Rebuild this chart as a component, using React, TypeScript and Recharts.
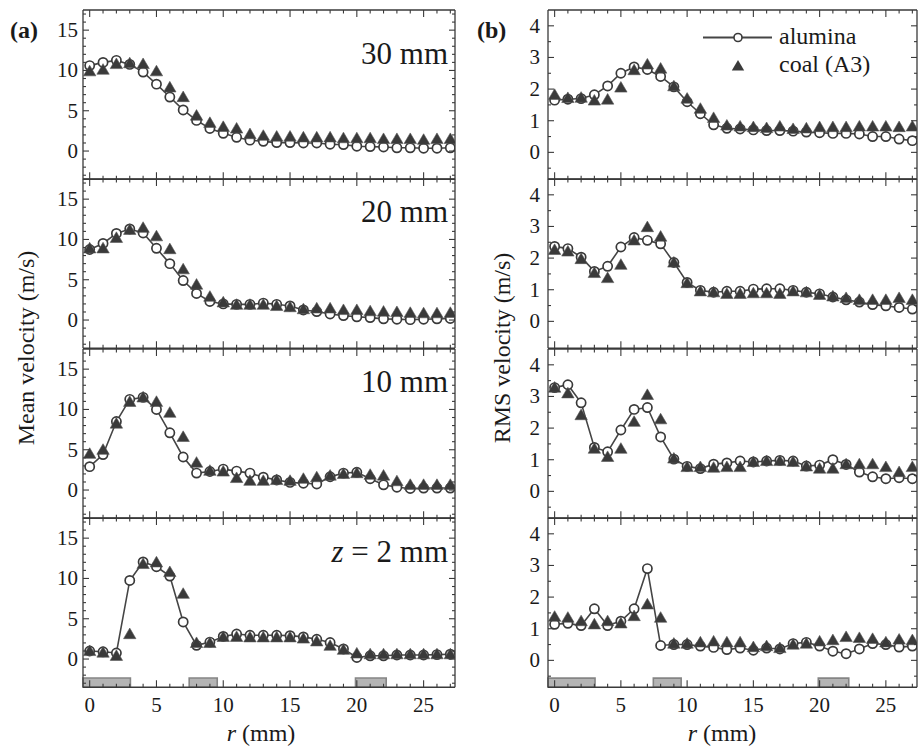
import React from 'react';
import { ComposedChart, Line, XAxis, YAxis, ReferenceArea } from 'recharts';

// radial position r (mm)
const radius = [0, 1, 2, 3, 4, 5, 6, 7, 8, 9, 10, 11, 12, 13, 14, 15, 16, 17, 18, 19, 20, 21, 22, 23, 24, 25, 26, 27];

// (a) mean velocity (m/s)
const meanAlumina30 = [10.6, 11.0, 11.25, 10.75, 9.8, 8.3, 6.7, 5.1, 3.8, 2.8, 2.2, 1.7, 1.35, 1.2, 1.05, 1.05, 1.0, 1.0, 0.85, 0.8, 0.6, 0.55, 0.5, 0.4, 0.4, 0.35, 0.35, 0.4];
const meanCoal30 = [9.9, 10.1, 10.8, 10.9, 10.8, 9.9, 7.9, 6.7, 4.4, 3.5, 3.0, 2.8, 2.1, 1.9, 1.8, 1.8, 1.7, 1.7, 1.7, 1.6, 1.6, 1.6, 1.5, 1.5, 1.5, 1.4, 1.5, 1.5];
const meanAlumina20 = [8.75, 9.5, 10.75, 11.3, 10.8, 8.9, 7.0, 4.9, 3.3, 2.3, 2.0, 1.95, 1.95, 2.1, 1.95, 1.75, 1.25, 1.05, 0.75, 0.55, 0.4, 0.3, 0.15, 0.1, 0.05, 0.1, 0.15, 0.2];
const meanCoal20 = [8.9, 8.9, 10.2, 11.2, 11.45, 10.4, 8.8, 6.3, 4.4, 2.9, 2.2, 1.9, 1.9, 1.9, 1.75, 1.6, 1.35, 1.45, 1.45, 1.25, 1.25, 1.1, 1.05, 1.0, 0.9, 0.85, 0.85, 0.9];
const meanAlumina10 = [2.9, 4.4, 8.5, 11.25, 11.5, 10.0, 7.1, 4.1, 2.1, 2.3, 2.6, 2.35, 2.1, 1.6, 1.25, 0.95, 0.85, 0.75, 1.65, 2.1, 2.2, 1.4, 0.65, 0.35, 0.2, 0.25, 0.25, 0.25];
const meanCoal10 = [4.5, 5.0, 8.25, 10.95, 11.5, 10.95, 9.6, 6.6, 3.4, 2.4, 2.3, 1.5, 1.15, 1.15, 1.25, 1.15, 1.4, 1.6, 1.8, 2.0, 2.1, 1.9, 1.8, 1.1, 0.65, 0.65, 0.65, 0.65];
const meanAlumina2 = [1.0, 0.9, 0.75, 9.75, 12.05, 11.45, 10.3, 4.6, 1.7, 2.1, 2.8, 3.1, 2.95, 2.95, 2.95, 2.9, 2.75, 2.45, 2.05, 1.25, 0.2, 0.4, 0.4, 0.5, 0.5, 0.5, 0.55, 0.6];
const meanCoal2 = [1.0, 0.8, 0.4, 3.1, 11.8, 12.0, 10.8, 8.1, 2.0, 2.0, 2.75, 2.75, 2.7, 2.7, 2.7, 2.7, 2.55, 2.2, 1.65, 1.15, 0.7, 0.6, 0.6, 0.6, 0.6, 0.6, 0.6, 0.6];

// (b) RMS velocity (m/s)
const rmsAlumina30 = [1.65, 1.68, 1.7, 1.82, 2.1, 2.5, 2.7, 2.62, 2.4, 2.07, 1.6, 1.22, 0.87, 0.76, 0.74, 0.71, 0.69, 0.69, 0.67, 0.64, 0.62, 0.6, 0.6, 0.58, 0.5, 0.5, 0.42, 0.37];
const rmsCoal30 = [1.82, 1.72, 1.73, 1.64, 1.67, 2.05, 2.6, 2.78, 2.65, 2.09, 1.7, 1.38, 1.09, 0.85, 0.82, 0.8, 0.77, 0.82, 0.74, 0.76, 0.8, 0.8, 0.8, 0.82, 0.82, 0.82, 0.8, 0.82];
const rmsAlumina20 = [2.37, 2.3, 2.03, 1.58, 1.74, 2.35, 2.65, 2.56, 2.45, 1.86, 1.23, 0.98, 0.92, 0.95, 0.95, 1.02, 1.03, 1.03, 0.98, 0.92, 0.87, 0.77, 0.68, 0.61, 0.53, 0.49, 0.44, 0.39];
const rmsCoal20 = [2.26, 2.21, 1.97, 1.53, 1.37, 1.79, 2.56, 2.98, 2.68, 1.86, 1.21, 0.95, 0.92, 0.87, 0.87, 0.89, 0.89, 0.87, 0.95, 0.92, 0.84, 0.79, 0.74, 0.68, 0.68, 0.68, 0.74, 0.68];
const rmsAlumina10 = [3.28, 3.37, 2.8, 1.39, 1.25, 1.94, 2.59, 2.65, 1.72, 1.02, 0.79, 0.72, 0.86, 0.9, 0.96, 0.93, 0.96, 0.98, 0.96, 0.8, 0.83, 1.0, 0.85, 0.61, 0.46, 0.4, 0.43, 0.4];
const rmsCoal10 = [3.28, 3.1, 2.41, 1.35, 1.09, 1.35, 2.2, 3.05, 2.28, 1.04, 0.77, 0.77, 0.75, 0.77, 0.77, 0.93, 0.96, 0.96, 0.93, 0.79, 0.72, 0.72, 0.86, 0.86, 0.86, 0.77, 0.61, 0.77];
const rmsAlumina2 = [1.14, 1.17, 1.1, 1.63, 1.1, 1.24, 1.63, 2.9, 0.47, 0.5, 0.5, 0.45, 0.41, 0.34, 0.39, 0.32, 0.39, 0.36, 0.53, 0.57, 0.45, 0.29, 0.21, 0.36, 0.53, 0.5, 0.42, 0.45];
const rmsCoal2 = [1.38, 1.35, 1.24, 1.14, 1.24, 1.17, 1.4, 1.77, 1.35, 0.53, 0.53, 0.57, 0.6, 0.57, 0.57, 0.42, 0.45, 0.39, 0.5, 0.53, 0.6, 0.64, 0.74, 0.71, 0.68, 0.57, 0.66, 0.64];

// ticks
const xTicks = [0, 1, 2, 3, 4, 5, 6, 7, 8, 9, 10, 11, 12, 13, 14, 15, 16, 17, 18, 19, 20, 21, 22, 23, 24, 25, 26, 27];
const xLabels = [0, 5, 10, 15, 20, 25];
const meanTicks = [-3, -2, -1, 0, 1, 2, 3, 4, 5, 6, 7, 8, 9, 10, 11, 12, 13, 14, 15, 16, 17];
const meanLabels = [0, 5, 10, 15];
const rmsTicks = [-0.5, 0, 0.5, 1, 1.5, 2, 2.5, 3, 3.5, 4];
const rmsLabels = [0, 1, 2, 3, 4];

// grey wall markers on the bottom panels (mm)
const wallStart = [-0.5, 7.45, 19.9];
const wallEnd = [3.05, 9.55, 22.2];

const INK = '#3a3a3a';
const SERIF = '"Liberation Serif", "Times New Roman", serif';
const AXW = 50;
const PAD = 2;
const XH = 34;
const PLOT_H = 169.25;
const TOPS = [10, 179.25, 348.5, 517.75];

function BottomTick({ x, y, payload, showLabel }: any) {
  const major = xLabels.includes(payload.value);
  return (
    <g>
      <line x1={x} y1={y} x2={x} y2={y - (major ? 7 : 3.5)} stroke={INK} strokeWidth={1.1} />
      {showLabel && major && (
        <text x={x} y={y + 25} textAnchor="middle" fontSize={21} fontFamily={SERIF} fill="#1a1a1a">
          {payload.value}
        </text>
      )}
    </g>
  );
}

function TopTick({ x, y, payload }: any) {
  const major = xLabels.includes(payload.value);
  return <line x1={x} y1={y} x2={x} y2={y + (major ? 7 : 3.5)} stroke={INK} strokeWidth={1.1} />;
}

function LeftTick({ x, y, payload, labels, gap }: any) {
  const major = labels.includes(payload.value);
  return (
    <g>
      <line x1={x} y1={y} x2={x + (major ? 6 : 3)} y2={y} stroke={INK} strokeWidth={1.1} />
      {major && (
        <text x={x - gap} y={y + 7} textAnchor="end" fontSize={21} fontFamily={SERIF} fill="#1a1a1a">
          {payload.value}
        </text>
      )}
    </g>
  );
}

function RightTick({ x, y, payload, labels }: any) {
  const major = labels.includes(payload.value);
  return <line x1={x} y1={y} x2={x - (major ? 6 : 3)} y2={y} stroke={INK} strokeWidth={1.1} />;
}

const circleDot = (p: any) => (
  <circle key={`c${p.index}`} cx={p.cx} cy={p.cy} r={4.6} fill="#fff" stroke={INK} strokeWidth={1.7} />
);

const triangleDot = (p: any) => (
  <polygon
    key={`t${p.index}`}
    points={`${p.cx},${p.cy - 6} ${p.cx - 6.2},${p.cy + 4.6} ${p.cx + 6.2},${p.cy + 4.6}`}
    fill={INK}
    stroke="#555"
    strokeWidth={0.6}
  />
);

type PanelProps = {
  alumina: number[];
  coal: number[];
  left: number;
  top: number;
  plotW: number;
  yDomain: [number, number];
  yTicks: number[];
  yLabels: number[];
  gap: number;
  bottom: boolean;
  wallTop: number;
};

function Panel({ alumina, coal, left, top, plotW, yDomain, yTicks, yLabels, gap, bottom, wallTop }: PanelProps) {
  const data = radius.map((r, i) => ({ r, alumina: alumina[i], coal: coal[i] }));
  const frame = { stroke: INK, strokeWidth: 1.3 };
  // thin (1px) axes on top / right / bottom carry the frame and the mirrored ticks
  return (
    <div style={{ position: 'absolute', left: left - AXW, top: top - PAD }}>
      <ComposedChart
        width={AXW + plotW + PAD}
        height={PAD + PLOT_H + (bottom ? XH : PAD)}
        data={data}
        margin={{ top: PAD - 1, right: PAD - 1, bottom: bottom ? 0 : PAD - 1, left: 0 }}
      >
        <XAxis
          dataKey="r"
          type="number"
          domain={[-0.5, 27.35]}
          allowDataOverflow
          ticks={xTicks}
          interval={0}
          tickSize={0}
          tickMargin={0}
          height={bottom ? XH : 1}
          axisLine={frame}
          tickLine={false}
          tick={(t: any) => <BottomTick {...t} showLabel={bottom} />}
        />
        <XAxis
          xAxisId="top"
          orientation="top"
          dataKey="r"
          type="number"
          domain={[-0.5, 27.35]}
          allowDataOverflow
          ticks={xTicks}
          interval={0}
          tickSize={0}
          tickMargin={0}
          height={1}
          axisLine={frame}
          tickLine={false}
          tick={(t: any) => <TopTick {...t} />}
        />
        <YAxis
          type="number"
          domain={yDomain}
          allowDataOverflow
          ticks={yTicks}
          interval={0}
          tickSize={0}
          tickMargin={0}
          width={AXW}
          axisLine={frame}
          tickLine={false}
          tick={(t: any) => <LeftTick {...t} labels={yLabels} gap={gap} />}
        />
        <YAxis
          yAxisId="right"
          orientation="right"
          type="number"
          domain={yDomain}
          allowDataOverflow
          ticks={yTicks}
          interval={0}
          tickSize={0}
          tickMargin={0}
          width={1}
          axisLine={frame}
          tickLine={false}
          tick={(t: any) => <RightTick {...t} labels={yLabels} />}
        />
        {bottom &&
          wallStart.map((s, i) => (
            <ReferenceArea
              key={i}
              x1={s}
              x2={wallEnd[i]}
              y1={yDomain[0]}
              y2={wallTop}
              fill="#b4b4b4"
              fillOpacity={1}
              stroke="#858585"
              strokeWidth={1.6}
            />
          ))}
        <Line
          dataKey="alumina"
          type="linear"
          stroke="#454545"
          strokeWidth={1.6}
          dot={circleDot}
          activeDot={false}
          isAnimationActive={false}
        />
        <Line
          dataKey="coal"
          type="linear"
          stroke="none"
          dot={triangleDot}
          activeDot={false}
          isAnimationActive={false}
        />
      </ComposedChart>
    </div>
  );
}

const meanSets = [
  [meanAlumina30, meanCoal30],
  [meanAlumina20, meanCoal20],
  [meanAlumina10, meanCoal10],
  [meanAlumina2, meanCoal2],
];
const rmsSets = [
  [rmsAlumina30, rmsCoal30],
  [rmsAlumina20, rmsCoal20],
  [rmsAlumina10, rmsCoal10],
  [rmsAlumina2, rmsCoal2],
];
const heightLabels = ['30 mm', '20 mm', '10 mm', '2 mm'];
const labelBaselines = [64, 222, 392, 562];

export default function App() {
  const txt = { fontFamily: SERIF, fill: '#1a1a1a' } as const;
  return (
    <div style={{ position: 'absolute', left: 0, top: 0, width: 920, height: 751, background: '#fff' }}>
      {meanSets.map(([a, c], i) => (
        <Panel
          key={`m${i}`}
          alumina={a}
          coal={c}
          left={83}
          top={TOPS[i]}
          plotW={372}
          yDomain={[-3.5, 17.5]}
          yTicks={meanTicks}
          yLabels={meanLabels}
          gap={5}
          bottom={i === 3}
          wallTop={-2.35}
        />
      ))}
      {rmsSets.map(([a, c], i) => (
        <Panel
          key={`r${i}`}
          alumina={a}
          coal={c}
          left={548}
          top={TOPS[i]}
          plotW={369}
          yDomain={[-0.85, 4.5]}
          yTicks={rmsTicks}
          yLabels={rmsLabels}
          gap={8}
          bottom={i === 3}
          wallTop={-0.56}
        />
      ))}
      <svg width={920} height={751} style={{ position: 'absolute', left: 0, top: 0, pointerEvents: 'none' }}>
        <text x={10} y={38} fontSize={24} fontWeight="bold" {...txt}>(a)</text>
        <text x={477} y={38} fontSize={24} fontWeight="bold" {...txt}>(b)</text>
        {heightLabels.map((l, i) => (
          <text key={l} x={448} y={labelBaselines[i]} fontSize={31} textAnchor="end" {...txt}>
            {i === 3 ? (
              <>
                <tspan fontStyle="italic">z</tspan> = {l}
              </>
            ) : (
              l
            )}
          </text>
        ))}
        <text x={34} y={348} fontSize={24} textAnchor="middle" transform="rotate(-90 34 348)" {...txt}>
          Mean velocity (m/s)
        </text>
        <text x={510} y={348} fontSize={24} textAnchor="middle" transform="rotate(-90 510 348)" {...txt}>
          RMS velocity (m/s)
        </text>
        <text x={261} y={741} fontSize={24} textAnchor="middle" {...txt}>
          <tspan fontStyle="italic">r</tspan> (mm)
        </text>
        <text x={722} y={741} fontSize={24} textAnchor="middle" {...txt}>
          <tspan fontStyle="italic">r</tspan> (mm)
        </text>
        <line x1={703} y1={37.5} x2={772} y2={37.5} stroke="#454545" strokeWidth={1.8} />
        <circle cx={738} cy={37.5} r={4} fill="#fff" stroke={INK} strokeWidth={1.6} />
        <polygon points="738,60 731.8,70.6 744.2,70.6" fill={INK} />
        <text x={779} y={44} fontSize={24} {...txt}>alumina</text>
        <text x={779} y={72} fontSize={24} {...txt}>coal (A3)</text>
      </svg>
    </div>
  );
}
